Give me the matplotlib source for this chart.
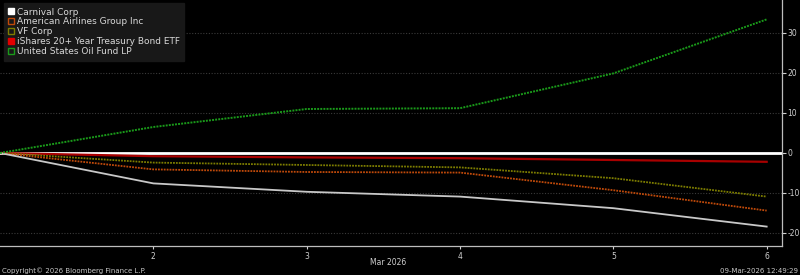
import matplotlib
matplotlib.use("Agg")
import matplotlib.pyplot as plt
from matplotlib.lines import Line2D

days = [1, 2, 3, 4, 5, 6]
tick_days = [2, 3, 4, 5, 6]
carnival = [0, -7.6, -9.7, -10.9, -13.8, -18.4]
american = [0, -4.1, -4.75, -4.9, -9.3, -14.4]
vf_corp = [0, -2.4, -3.0, -3.6, -6.3, -10.9]
treasury = [0, -0.8, -1.1, -1.3, -1.75, -2.2]
oil_fund = [0, 6.5, 11.0, 11.2, 19.9, 33.4]
y_ticks = [-20, -10, 0, 10, 20, 30]

names = ["Carnival Corp", "American Airlines Group Inc", "VF Corp",
         "iShares 20+ Year Treasury Bond ETF", "United States Oil Fund LP"]

fig = plt.figure(figsize=(8, 2.75), dpi=100, facecolor="black")
ax = fig.add_axes([0.0, 0.1055, 0.9775, 0.8945], facecolor="black")

# gridlines
for v in y_ticks:
    if v != 0:
        ax.axhline(v, color="#3a3a3a", lw=0.8, ls=(0, (1, 1.5)), zorder=1)
ax.axhline(0, color="white", lw=2.0, zorder=2)

ax.plot(days, treasury, color="#a80000", lw=1.6, zorder=3)
ax.plot(days, vf_corp, color="#7d7d00", lw=1.3, ls=(0, (1, 0.6)), zorder=3)
ax.plot(days, american, color="#c04a0a", lw=1.3, ls=(0, (1, 0.6)), zorder=3)
ax.plot(days, carnival, color="#c8c8c8", lw=1.3, zorder=3)
ax.plot(days, oil_fund, color="#1a9a1a", lw=1.4, ls=(0, (1, 0.6)), zorder=3)

ax.set_xlim(1, 6.10)
ax.set_ylim(-23.25, 38.25)

ax.yaxis.tick_right()
ax.set_yticks(y_ticks)
ax.set_yticklabels([str(v) for v in y_ticks])
ax.set_xticks(tick_days)
ax.set_xticklabels([str(d) for d in tick_days])
ax.tick_params(axis="y", colors="#d0d0d0", labelsize=5.5, length=3, width=0.8, pad=1)
ax.tick_params(axis="x", colors="#d0d0d0", labelsize=5.5, length=2, width=0.8, pad=2)

for s in ["top", "left"]:
    ax.spines[s].set_visible(False)
ax.spines["right"].set_color("#bdbdbd")
ax.spines["bottom"].set_color("#bdbdbd")
ax.spines["right"].set_linewidth(0.9)
ax.spines["bottom"].set_linewidth(0.9)

handles = [
    Line2D([], [], marker="s", ls="none", markersize=5, markerfacecolor="white", markeredgecolor="white"),
    Line2D([], [], marker="s", ls="none", markersize=5, markerfacecolor="none", markeredgecolor="#c04a0a"),
    Line2D([], [], marker="s", ls="none", markersize=5, markerfacecolor="none", markeredgecolor="#7d7d00"),
    Line2D([], [], marker="s", ls="none", markersize=5, markerfacecolor="#e00000", markeredgecolor="#e00000"),
    Line2D([], [], marker="s", ls="none", markersize=5, markerfacecolor="none", markeredgecolor="#1a9a1a"),
]
leg = ax.legend(handles, names, loc="upper left", bbox_to_anchor=(0.003, 0.995),
                fontsize=6.5, frameon=True, fancybox=False, handlelength=0.6,
                handletextpad=0.3, labelspacing=0.1, borderpad=0.5, borderaxespad=0.2)
leg.get_frame().set_facecolor("#181818")
leg.get_frame().set_edgecolor("#181818")
leg.get_frame().set_alpha(1)
for t in leg.get_texts():
    t.set_color("#d8d8d8")

fig.text(0.485, 0.045, "Mar 2026", color="#d0d0d0", fontsize=5.5, ha="center", va="center")
fig.text(0.003, 0.015, "Copyright\u00a9 2026 Bloomberg Finance L.P.", color="#c8c8c8",
         fontsize=5, ha="left", va="center")
fig.text(0.997, 0.015, "09-Mar-2026 12:49:29", color="#c8c8c8",
         fontsize=5, ha="right", va="center")

fig.savefig("out.png", dpi=100, facecolor="black")
